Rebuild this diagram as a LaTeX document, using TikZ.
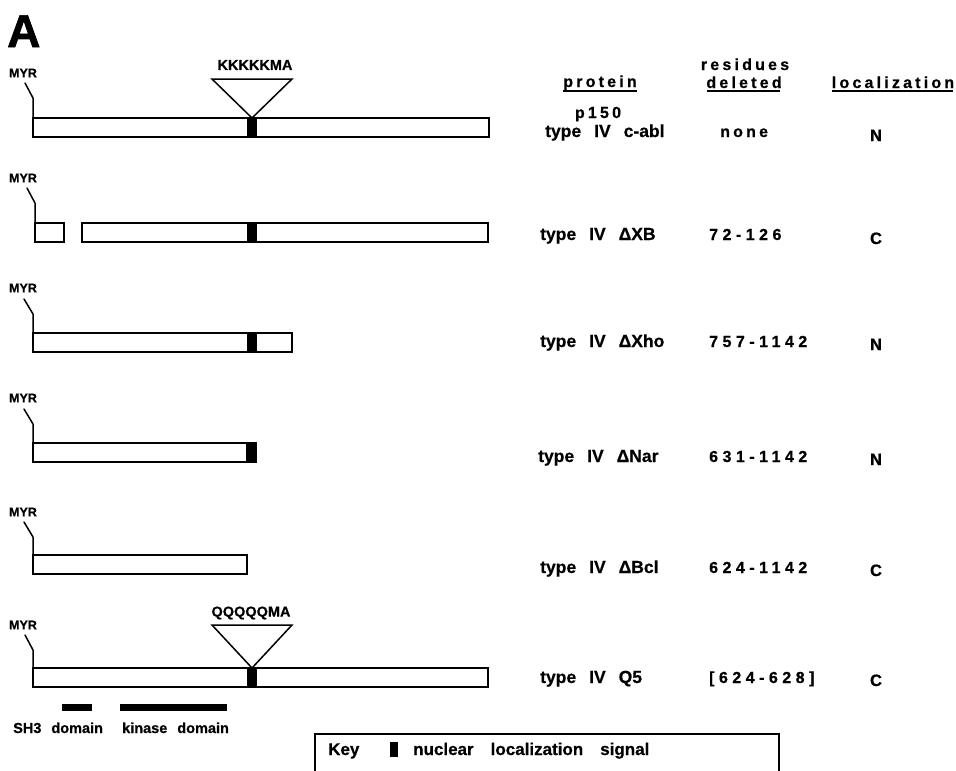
\documentclass[tikz,border=0pt]{standalone}
\usepackage{fontspec}
\setmainfont[BoldFeatures={FakeBold=0.6}]{Liberation Sans}
\newfontfamily\lspfont[LetterSpace=20, BoldFeatures={FakeBold=0.6}]{Liberation Sans}
\newfontfamily\nspfont[LetterSpace=28, BoldFeatures={FakeBold=0.6}]{Liberation Sans}
\newfontfamily\heavyfont[BoldFeatures={FakeBold=1.5}]{Liberation Sans}
\newcommand\myLabFont{\fontsize{17.5}{20}\selectfont\bfseries\spaceskip=13pt\relax}
\newcommand\myFootFont{\fontsize{14.5}{17}\selectfont\bfseries\spaceskip=10pt\relax}
\newcommand\myKeyFont{\fontsize{17}{20}\selectfont\bfseries\spaceskip=17pt\relax}
\tikzset{
  bar/.style={draw, line width=1.5pt, fill=white, inner sep=0pt, outer sep=0pt, minimum height=19pt, anchor=north west},
  nls/.style={fill=black, draw=none, inner sep=0pt, outer sep=0pt, minimum width=10pt, minimum height=19pt, anchor=north west},
  dom/.style={fill=black, draw=none, inner sep=0pt, outer sep=0pt, minimum height=7pt, anchor=north west},
  myr/.style={font=\fontsize{12.5}{14}\selectfont\bfseries, inner sep=0pt},
  link/.style={line width=1.5pt, line cap=round, line join=round},
  lab/.style={font=\myLabFont, inner sep=0pt, anchor=base west},
  num/.style={font=\nspfont\fontsize{16}{19}\selectfont\bfseries, inner sep=0pt, anchor=base west},
  hdr/.style={font=\lspfont\fontsize{16}{19}\selectfont\bfseries, inner sep=0pt, anchor=base},
  loc/.style={font=\fontsize{16.5}{19}\selectfont\bfseries, inner sep=0pt, anchor=base},
  seq/.style={font=\fontsize{14.5}{16}\selectfont\bfseries, inner sep=0pt},
  foot/.style={font=\myFootFont, inner sep=0pt, anchor=base west},
  keyt/.style={font=\myKeyFont, inner sep=0pt, anchor=base west}
}
\begin{document}
\begin{tikzpicture}[x=1pt,y=-1pt]
\useasboundingbox (0,0) rectangle (956,771);
\node[font=\heavyfont\fontsize{46}{50}\selectfont\bfseries, inner sep=0pt, anchor=base west] (A) at (7,47) {A};

% headers
\node[hdr] (prot) at (600,87) {protein};
\node[hdr] (resid) at (745,70) {residues};
\node[hdr] (del) at (744,88) {deleted};
\node[hdr] (locz) at (893,88) {localization};
\draw[line width=1.3pt] (563,91) -- (637,91);
\draw[line width=1.3pt] (707,91) -- (780,91);
\draw[line width=1.3pt] (832,91) -- (953,91);

% ---------- row 1
\node[myr] (m1) at (23,73) {MYR};
\coordinate (k1) at (25,83); \coordinate (j1) at (33,98);
\node[bar, minimum width=456pt] (b1) at (33,118) {};
\node[nls] (n1) at (247,118) {};
\draw[link] (k1) -- (j1) -- (b1.north west);
\node[seq] (s1) at (255,65) {KKKKKMA};
\coordinate (t1a) at (212,79); \coordinate (t1b) at (292,79);
\draw[line width=1.5pt, line join=miter] (t1a) -- (t1b) -- (n1.north) -- cycle;
\node[hdr] (p150) at (598,118) {p150};
\node[lab] (r1p) at (545,137) {type IV c-abl};
\node[hdr, anchor=base west] (r1d) at (720,137) {none};
\node[loc] (r1l) at (876,141) {N};

% ---------- row 2
\node[myr] (m2) at (23,178) {MYR};
\coordinate (k2) at (27,188); \coordinate (j2) at (35,203);
\node[bar, minimum width=29pt] (b2a) at (35,223) {};
\node[bar, minimum width=406pt] (b2) at (82,223) {};
\node[nls] (n2) at (247,223) {};
\draw[link] (k2) -- (j2) -- (b2a.north west);
\node[lab] (r2p) at (540,240) {type IV ΔXB};
\node[num] (r2d) at (709,240) {72-126};
\node[loc] (r2l) at (876,244) {C};

% ---------- row 3
\node[myr] (m3) at (23,288) {MYR};
\coordinate (k3) at (24,299); \coordinate (j3) at (33,314);
\node[bar, minimum width=259pt] (b3) at (33,333) {};
\node[nls] (n3) at (247,333) {};
\draw[link] (k3) -- (j3) -- (b3.north west);
\node[lab] (r3p) at (540,347) {type IV ΔXho};
\node[num] (r3d) at (709,347) {757-1142};
\node[loc] (r3l) at (876,350) {N};

% ---------- row 4
\node[myr] (m4) at (23,398) {MYR};
\coordinate (k4) at (24,409); \coordinate (j4) at (33,424);
\node[bar, minimum width=223pt] (b4) at (33,443) {};
\node[nls] (n4) at (246,443) {};
\draw[link] (k4) -- (j4) -- (b4.north west);
\node[lab] (r4p) at (538,462) {type IV ΔNar};
\node[num] (r4d) at (709,462) {631-1142};
\node[loc] (r4l) at (876,465) {N};

% ---------- row 5
\node[myr] (m5) at (23,512) {MYR};
\coordinate (k5) at (24,522); \coordinate (j5) at (33,537);
\node[bar, minimum width=214pt] (b5) at (33,555) {};
\draw[link] (k5) -- (j5) -- (b5.north west);
\node[lab] (r5p) at (540,573) {type IV ΔBcl};
\node[num] (r5d) at (709,573) {624-1142};
\node[loc] (r5l) at (876,576) {C};

% ---------- row 6
\node[myr] (m6) at (23,625) {MYR};
\coordinate (k6) at (25,635); \coordinate (j6) at (33,650);
\node[bar, minimum width=455pt] (b6) at (33,668) {};
\node[nls] (n6) at (247,668) {};
\draw[link] (k6) -- (j6) -- (b6.north west);
\node[seq] (s6) at (251,613) {QQQQQMA};
\coordinate (t6a) at (212,625); \coordinate (t6b) at (292,625);
\draw[line width=1.5pt, line join=miter] (t6a) -- (t6b) -- (n6.north) -- cycle;
\node[lab] (r6p) at (540,683) {type IV Q5};
\node[num] (r6d) at (709,683) {[624-628]};
\node[loc] (r6l) at (876,686) {C};

% ---------- domains
\node[dom, minimum width=30pt] (sh3) at (62,704) {};
\node[dom, minimum width=107pt] (kin) at (120,704) {};
\node[foot] (sh3t) at (13,733) {SH3 domain};
\node[foot] (kint) at (122,733) {kinase domain};

% ---------- key
\coordinate (kb1) at (315,772); \coordinate (kb2) at (315,734);
\coordinate (kb3) at (779,734); \coordinate (kb4) at (779,772);
\draw[line width=1.5pt] (kb1) -- (kb2) -- (kb3) -- (kb4);
\node[keyt] (key) at (328,755) {Key};
\node[fill=black, inner sep=0pt, minimum width=8pt, minimum height=15pt, anchor=north west] (keynls) at (390,742) {};
\node[keyt] (keyd) at (413,755) {nuclear localization signal};
\end{tikzpicture}
\end{document}
